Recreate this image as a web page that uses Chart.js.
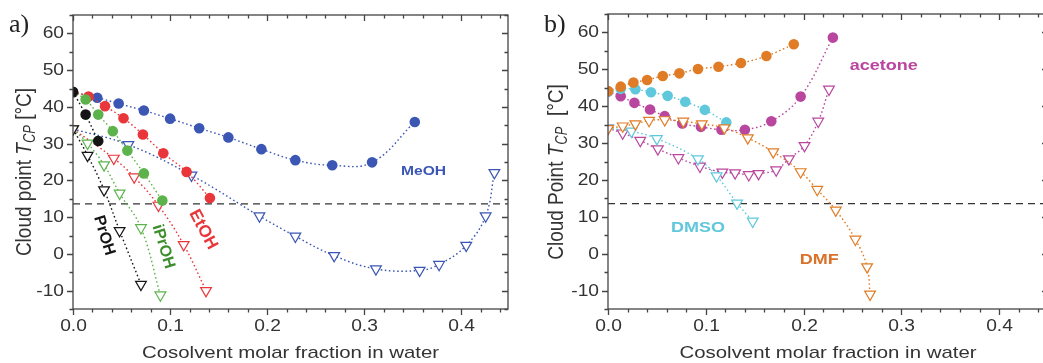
<!DOCTYPE html>
<html>
<head>
<meta charset="utf-8">
<script src="https://cdn.jsdelivr.net/npm/chart.js@4.4.0/dist/chart.umd.min.js"></script>
<style>
    html, body { margin: 0; padding: 0; background: #fff; }
    body { width: 1043px; height: 363px; overflow: hidden; position: relative; }
    .panel { position: absolute; top: 0; height: 363px; }
    #pa { left: 0; width: 520px; }
    #pb { left: 520px; width: 540px; }
</style>
</head>
<body>
<div class="panel" id="pa"><canvas id="chart-a"></canvas></div>
<div class="panel" id="pb"><canvas id="chart-b"></canvas></div>
<script>
(function () {
    'use strict';

    // --- Data, panel a (alcohols) ---
    const meohX = [0, 0.025, 0.047, 0.073, 0.100, 0.130, 0.160, 0.194, 0.229, 0.267, 0.308, 0.352];
    const meohY = [44, 42.5, 40.9, 39.0, 36.8, 34.2, 31.7, 28.5, 25.5, 24.1, 24.9, 35.9];
    const meohTriX = [0, 0.057, 0.122, 0.192, 0.229, 0.269, 0.312, 0.357, 0.377, 0.405, 0.425, 0.434];
    const meohTriY = [34, 29.7, 21.4, 10.3, 4.8, -0.5, -4.1, -4.5, -2.9, 2.3, 10.3, 22.1];
    const etohX = [0, 0.016, 0.033, 0.052, 0.072, 0.093, 0.117, 0.141];
    const etohY = [44, 42.8, 40.2, 36.9, 32.5, 27.4, 22.3, 15.2];
    const etohTriX = [0, 0.042, 0.063, 0.088, 0.114, 0.137];
    const etohTriY = [34, 26.0, 20.9, 13.2, 2.5, -10];
    const iprohX = [0, 0.013, 0.026, 0.041, 0.056, 0.073, 0.092];
    const iprohY = [44, 42, 37.9, 33.4, 28.1, 21.9, 14.5];
    const iprohTriX = [0, 0.015, 0.032, 0.048, 0.070, 0.090];
    const iprohTriY = [34, 30.1, 24.2, 16.5, 7.1, -11.2];
    const prohX = [0, 0.013, 0.026];
    const prohY = [44.1, 37.9, 30.7];
    const prohTriX = [0, 0.015, 0.032, 0.048, 0.070];
    const prohTriY = [34, 26.8, 17.4, 6.3, -8.3];

    // --- Data, panel b (aprotic cosolvents) ---
    const dmfX = [0, 0.013, 0.026, 0.040, 0.056, 0.073, 0.092, 0.113, 0.136, 0.162, 0.190];
    const dmfY = [44.1, 45.3, 46.4, 47.1, 48.2, 48.9, 50.1, 50.7, 51.7, 53.6, 56.8];
    const dmfTriX = [0, 0.015, 0.028, 0.042, 0.058, 0.077, 0.096, 0.119, 0.143, 0.169, 0.197, 0.214, 0.233, 0.253, 0.265, 0.268];
    const dmfTriY = [33.9, 34.6, 35.2, 36.1, 36.3, 35.9, 35.2, 34.1, 31.4, 27.6, 22.2, 17.4, 11.8, 3.9, -3.6, -11];
    const acetoneX = [0, 0.013, 0.027, 0.043, 0.058, 0.076, 0.095, 0.116, 0.140, 0.167, 0.197, 0.230];
    const acetoneY = [44, 42.7, 40.9, 39.1, 37.3, 35.3, 34.4, 33.6, 33.6, 35.9, 42.6, 58.6];
    const acetoneTriX = [0, 0.015, 0.033, 0.051, 0.072, 0.094, 0.117, 0.130, 0.144, 0.154, 0.172, 0.185, 0.201, 0.215, 0.226];
    const acetoneTriY = [34, 32.7, 30.7, 28.4, 26.0, 23.7, 22.1, 21.9, 21.4, 21.7, 22.7, 25.7, 29.3, 35.9, 44.6];
    const dmsoX = [0, 0.013, 0.028, 0.044, 0.061, 0.079, 0.099, 0.121];
    const dmsoY = [44, 44.7, 44.6, 43.8, 42.8, 41.2, 39.0, 35.6];
    const dmsoTriX = [0, 0.024, 0.050, 0.092, 0.111, 0.132, 0.148];
    const dmsoTriY = [34, 33.2, 31.2, 25.7, 21.1, 13.7, 8.8];

    // reference temperature (dashed line)
    const refX = [0, 0.45];
    const refY = [13.6, 13.6];

    const FONT = '"Liberation Sans", Arial, sans-serif';
    const STRETCH = 1.2; // the source image is a little wider than tall

    function series(xs, ys, color, tri) {
        return {
            data: xs.map((x, i) => ({ x: x, y: ys[i] })),
            showLine: true,
            borderColor: color,
            borderWidth: 1.4,
            borderDash: [1.6, 2.6],
            tension: 0.4,
            pointStyle: tri ? 'triangle' : 'circle',
            pointRotation: tri ? 180 : 0,
            pointRadius: tri ? 6.2 : 5.3,
            pointBorderWidth: tri ? 1.2 : 0,
            pointBorderColor: color,
            pointBackgroundColor: tri ? '#fff' : color,
        };
    }

    function refLine() {
        return {
            data: refX.map((x, i) => ({ x: x, y: refY[i] })),
            showLine: true,
            borderColor: '#333',
            borderWidth: 1.3,
            borderDash: [7, 5],
            pointRadius: 0,
        };
    }

    // --- Frame, ticks, titles and labels ---

    function drawText(ctx, str, x, y, font, color, align) {
        ctx.save();
        ctx.translate(x, y);
        ctx.scale(STRETCH, 1);
        ctx.font = font;
        ctx.fillStyle = color;
        ctx.textAlign = align;
        ctx.textBaseline = 'middle';
        ctx.fillText(str, 0, 0);
        ctx.restore();
    }

    const framePlugin = {
        id: 'frame',
        afterDatasetsDraw(chart, args, o) {
            const ctx = chart.ctx;
            const a = chart.chartArea;
            const xs = chart.scales.x;
            const ys = chart.scales.y;
            ctx.save();
            ctx.strokeStyle = '#444';
            ctx.lineWidth = 1.3;
            ctx.strokeRect(a.left, a.top, a.right - a.left, a.bottom - a.top);

            // x ticks: outward at bottom, inward at top
            ctx.beginPath();
            for (let i = 0; ; i++) {
                const v = i * 0.02;
                if (v > xs.max + 1e-9) break;
                const px = Math.round(xs.getPixelForValue(v)) + 0.5;
                const len = i % 5 === 0 ? 6 : 3.5;
                ctx.moveTo(px, a.bottom); ctx.lineTo(px, a.bottom + len);
                ctx.moveTo(px, a.top); ctx.lineTo(px, a.top + len);
                if (i % 5 === 0) {
                    drawText(ctx, v.toFixed(1), px, a.bottom + 18, '16px ' + FONT, '#333', 'center');
                }
            }
            // y ticks: outward at left, inward at right
            for (let v = Math.ceil(ys.min / 5) * 5; v <= ys.max + 1e-9; v += 5) {
                const py = Math.round(ys.getPixelForValue(v)) + 0.5;
                const major = v % 10 === 0;
                const len = major ? 6 : 3.5;
                ctx.moveTo(a.left, py); ctx.lineTo(a.left - len, py);
                ctx.moveTo(a.right, py); ctx.lineTo(a.right - len, py);
                if (major) {
                    drawText(ctx, String(v), a.left - 9, py, '16px ' + FONT, '#333', 'right');
                }
            }
            ctx.stroke();

            // x title
            drawText(ctx, 'Cosolvent molar fraction in water', (a.left + a.right) / 2, 353,
                '17px ' + FONT, '#333', 'center');

            // y title with italic T and subscript CP
            const parts = [
                { t: o.yTitle[0], f: '19px ' + FONT, dy: 0 },
                { t: 'T', f: 'italic 19px ' + FONT, dy: 0 },
                { t: 'CP', f: 'italic 13px ' + FONT, dy: 5 },
                { t: o.yTitle[1], f: '19px ' + FONT, dy: 0 },
            ];
            let total = 0;
            parts.forEach(p => { ctx.font = p.f; p.w = ctx.measureText(p.t).width; total += p.w; });
            ctx.save();
            ctx.translate(o.yTitleX, o.yTitleY);
            ctx.rotate(-Math.PI / 2);
            ctx.scale(1, STRETCH);
            ctx.fillStyle = '#333';
            ctx.textBaseline = 'middle';
            ctx.textAlign = 'left';
            let cx = -total / 2;
            parts.forEach(p => {
                ctx.font = p.f;
                ctx.fillText(p.t, cx, p.dy);
                cx += p.w;
            });
            ctx.restore();

            // panel letter
            ctx.font = '26px "Liberation Serif", "DejaVu Serif", serif';
            ctx.fillStyle = '#222';
            ctx.textAlign = 'left';
            ctx.textBaseline = 'alphabetic';
            ctx.fillText(o.panel, o.panelX, 32);

            // series names
            o.notes.forEach(n => {
                ctx.save();
                ctx.translate(xs.getPixelForValue(n.x), ys.getPixelForValue(n.y));
                if (n.angle) ctx.rotate(n.angle * Math.PI / 180);
                else ctx.scale(STRETCH, 1);
                ctx.font = 'bold ' + n.size + 'px ' + FONT;
                ctx.fillStyle = n.color;
                ctx.textAlign = 'center';
                ctx.textBaseline = 'middle';
                ctx.fillText(n.text, 0, 0);
                ctx.restore();
            });
            ctx.restore();
        },
    };

    function makeChart(id, datasets, padding, xMax, frame) {
        return new Chart(document.getElementById(id), {
            type: 'scatter',
            data: { datasets: datasets },
            options: {
                responsive: true,
                maintainAspectRatio: false,
                animation: false,
                layout: { padding: padding },
                plugins: { legend: { display: false }, tooltip: { enabled: false }, frame: frame },
                scales: {
                    x: { type: 'linear', min: 0, max: xMax, display: false },
                    y: { type: 'linear', min: -15, max: 65, display: false },
                },
            },
            plugins: [framePlugin],
        });
    }

    const BLUE = '#3b57b3', RED = '#e8363b', GREEN = '#5db34b', BLACK = '#151515';
    const ORANGE = '#e07c25', MAGENTA = '#b9479f', CYAN = '#60c8dc';

    // first dataset is drawn on top
    makeChart('chart-a', [
        series(prohX, prohY, BLACK, false),
        series(prohTriX, prohTriY, BLACK, true),
        series(iprohX, iprohY, GREEN, false),
        series(iprohTriX, iprohTriY, GREEN, true),
        series(etohX, etohY, RED, false),
        series(etohTriX, etohTriY, RED, true),
        series(meohX, meohY, BLUE, false),
        series(meohTriX, meohTriY, BLUE, true),
        refLine(),
    ], { left: 73, top: 15, right: 12, bottom: 54 }, 0.448, {
        panel: 'a)', panelX: 9,
        yTitle: ['Cloud point ', ' [°C]'], yTitleX: 25, yTitleY: 172,
        notes: [
            { text: 'MeOH', x: 0.361, y: 22.4, color: BLUE, size: 13 },
            { text: 'EtOH', x: 0.134, y: 6.6, color: RED, size: 17, angle: 62 },
            { text: 'iPrOH', x: 0.093, y: 2, color: '#3e8e2e', size: 16, angle: 73 },
            { text: 'PrOH', x: 0.032, y: 5, color: BLACK, size: 16, angle: 73 },
        ],
    });

    makeChart('chart-b', [
        series(dmfX, dmfY, ORANGE, false),
        series(dmfTriX, dmfTriY, ORANGE, true),
        series(dmsoX, dmsoY, CYAN, false),
        series(dmsoTriX, dmsoTriY, CYAN, true),
        series(acetoneX, acetoneY, MAGENTA, false),
        series(acetoneTriX, acetoneTriY, MAGENTA, true),
        refLine(),
    ], { left: 88, top: 14, right: 12, bottom: 54 }, 0.45, {
        panel: 'b)', panelX: 24,
        yTitle: ['Cloud Point ', '  [°C]'], yTitleX: 37, yTitleY: 172,
        notes: [
            { text: 'acetone', x: 0.282, y: 51, color: MAGENTA, size: 15 },
            { text: 'DMSO', x: 0.092, y: 6.9, color: CYAN, size: 15 },
            { text: 'DMF', x: 0.216, y: -1.7, color: '#d9722a', size: 15 },
        ],
    });
})();
</script>
</body>
</html>
